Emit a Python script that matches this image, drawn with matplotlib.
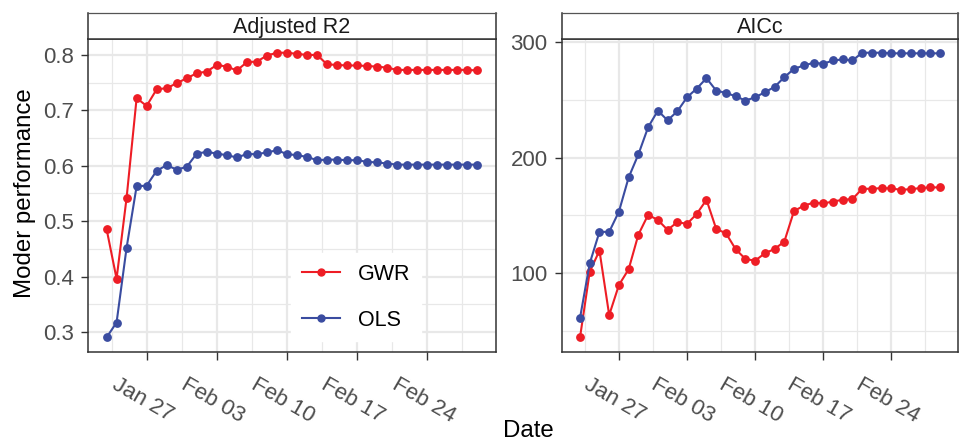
import matplotlib
matplotlib.use("Agg")
import matplotlib.pyplot as plt
import matplotlib.dates as mdates
import matplotlib.transforms as mtransforms
from matplotlib.ticker import FixedLocator
import datetime as dt

plt.rcParams['font.family'] = ['Liberation Sans', 'DejaVu Sans']

start = dt.date(2020, 1, 23)
dates = [start + dt.timedelta(days=i) for i in range(38)]

r2_gwr = [0.486, 0.396, 0.542, 0.722, 0.708, 0.738, 0.740, 0.749, 0.758, 0.767,
          0.770, 0.782, 0.779, 0.772, 0.787, 0.788, 0.799, 0.804, 0.804, 0.802,
          0.800, 0.800, 0.783, 0.782, 0.781, 0.781, 0.780, 0.779, 0.777, 0.773,
          0.773, 0.773, 0.773, 0.773, 0.773, 0.773, 0.773, 0.772]
r2_ols = [0.290, 0.317, 0.452, 0.563, 0.564, 0.591, 0.601, 0.593, 0.598, 0.622,
          0.625, 0.622, 0.619, 0.615, 0.621, 0.621, 0.624, 0.628, 0.621, 0.619,
          0.616, 0.610, 0.611, 0.611, 0.610, 0.610, 0.607, 0.606, 0.604, 0.602,
          0.602, 0.602, 0.602, 0.602, 0.602, 0.602, 0.602, 0.602]
aicc_gwr = [44.6, 101.4, 119.6, 63.9, 89.9, 103.5, 133.4, 150.5, 146.1, 137.5,
            144.2, 142.7, 151.3, 163.5, 138.3, 134.6, 120.8, 112.4, 110.9, 117.3,
            121.0, 127.4, 153.9, 158.3, 161.1, 160.3, 162.0, 163.5, 164.1, 173.0,
            173.0, 173.6, 173.3, 172.1, 172.7, 173.6, 174.2, 174.2]
aicc_ols = [61.3, 108.6, 135.8, 135.8, 153.3, 182.8, 202.7, 226.1, 240.5, 232.1,
            239.9, 252.0, 259.6, 268.5, 257.8, 255.8, 252.9, 249.2, 252.0, 256.4,
            261.0, 269.4, 276.6, 279.5, 281.8, 281.0, 283.8, 284.7, 283.8, 290.5,
            290.5, 290.5, 290.0, 290.0, 290.0, 290.0, 290.0, 290.0]

facets = ["Adjusted R2", "AICc"]
series_names = ["GWR", "OLS"]
colors = {"GWR": "#EE1D25", "OLS": "#3A4CA0"}

W, H = 960, 442
fig = plt.figure(figsize=(W / 100, H / 100), dpi=100)

def fx(px):
    return px / W

def fy(py):
    return 1 - py / H

panel_top, panel_bot = 38.5, 351.7
strip_top = 13
panels = [(88, 496), (562, 958)]
dark = "#333333"
grid_col = "#E8E8E8"

xticks = [dt.date(2020, 1, 27) + dt.timedelta(days=7 * k) for k in range(5)]
xminor = [dt.datetime(2020, 1, 23, 12) + dt.timedelta(days=7 * k) for k in range(6)]

data = {
    "Adjusted R2": {"GWR": r2_gwr, "OLS": r2_ols},
    "AICc": {"GWR": aicc_gwr, "OLS": aicc_ols},
}
yinfo = {
    "Adjusted R2": dict(major=[0.3, 0.4, 0.5, 0.6, 0.7, 0.8], minor=[0.25, 0.35, 0.45, 0.55, 0.65, 0.75, 0.85], fmt="{:.1f}"),
    "AICc": dict(major=[100, 200, 300], minor=[50, 150, 250], fmt="{:.0f}"),
}

shift = mtransforms.ScaledTranslation(-4 / 100, 0, fig.dpi_scale_trans)

axes = []
for (l, r), facet in zip(panels, facets):
    ax = fig.add_axes([fx(l), fy(panel_bot), fx(r - l), (panel_bot - panel_top) / H])
    axes.append(ax)
    for name in series_names:
        ax.plot(dates, data[facet][name], color=colors[name], lw=1.5, marker='o',
                ms=5.3, label=name, zorder=3)
    allv = data[facet]["GWR"] + data[facet]["OLS"]
    lo, hi = min(allv), max(allv)
    pad = (hi - lo) * 0.05
    ax.set_ylim(lo - pad, hi + pad)
    xs = mdates.date2num(dates)
    xpad = (xs[-1] - xs[0]) * 0.05
    ax.set_xlim(xs[0] - xpad, xs[-1] + xpad)
    ax.xaxis.set_major_locator(FixedLocator(mdates.date2num(xticks)))
    ax.xaxis.set_minor_locator(FixedLocator(mdates.date2num(xminor)))
    ax.xaxis.set_major_formatter(mdates.DateFormatter('%b %d'))
    yi = yinfo[facet]
    ax.yaxis.set_major_locator(FixedLocator(yi["major"]))
    ax.yaxis.set_minor_locator(FixedLocator(yi["minor"]))
    ax.set_yticklabels([yi["fmt"].format(v) for v in yi["major"]])
    ax.grid(True, which='major', color=grid_col, lw=1.6, zorder=0)
    ax.grid(True, which='minor', color=grid_col, lw=0.9, zorder=0)
    ax.set_axisbelow(True)
    for s in ax.spines.values():
        s.set_color(dark)
        s.set_linewidth(1.1)
    ax.tick_params(which='major', length=5.4, width=1.0, color=dark,
                   labelsize=16, labelcolor="#4D4D4D", pad=5)
    ax.tick_params(which='minor', length=0)
    ax.tick_params(axis='x', pad=11)
    for lab in ax.get_xticklabels():
        lab.set_rotation(-30)
        lab.set_ha('center')
        lab.set_va('top')
        lab.set_transform(lab.get_transform() + shift)

    # strip
    sax = fig.add_axes([fx(l), fy(panel_top), fx(r - l), (panel_top - strip_top) / H])
    sax.set_xticks([])
    sax.set_yticks([])
    sax.set_facecolor("white")
    for s in sax.spines.values():
        s.set_color(dark)
        s.set_linewidth(1.1)
    sax.spines['top'].set_color("#555555")
    sax.spines['top'].set_linewidth(0.9)
    sax.text(0.5, 0.45, facet, transform=sax.transAxes, ha='center', va='center',
             fontsize=15.5, color="#1A1A1A")

leg = axes[0].legend(loc='upper left', bbox_to_anchor=(0.497, 0.315), frameon=True,
                     fontsize=15.5, handlelength=1.8, handletextpad=0.8,
                     labelspacing=1.15, borderpad=0.5, borderaxespad=0,
                     fancybox=False)
leg.get_frame().set_facecolor("white")
leg.get_frame().set_edgecolor("white")
leg.get_frame().set_alpha(1)
for h in leg.legend_handles:
    h.set_markersize(5)

fig.text(fx(25), fy(193), "Moder performance", rotation=90, ha='center', va='center',
         fontsize=17.3, color="black")
fig.text(fx(528), fy(431), "Date", ha='center', va='center', fontsize=17.3, color="black")

fig.savefig("out.png", dpi=100)
